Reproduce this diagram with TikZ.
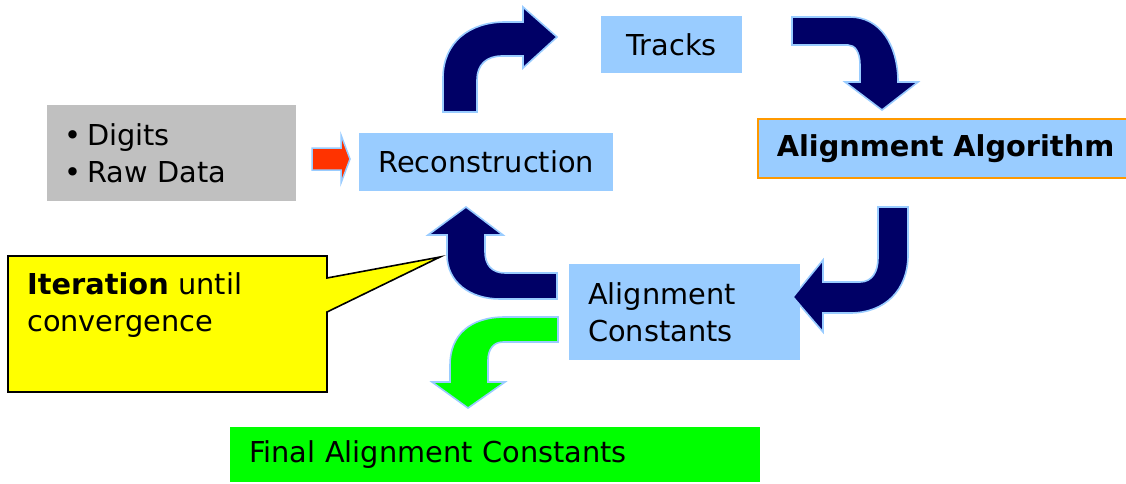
\documentclass[tikz,border=0pt]{standalone}
\usepackage{fontspec}
\setmainfont{DejaVu Sans}
\definecolor{navy}{HTML}{000066}
\definecolor{lblue}{HTML}{99CCFF}
\definecolor{gbox}{HTML}{C0C0C0}
\definecolor{ybox}{HTML}{FFFF00}
\definecolor{gfill}{HTML}{00FF00}
\definecolor{oborder}{HTML}{FF9900}
\definecolor{rarrow}{HTML}{FF3300}
\begin{document}
\begin{tikzpicture}[x=1pt,y=-1pt,
  txt/.style={font=\fontsize{28.8}{37}\selectfont},
  box/.style={txt,fill=lblue,inner sep=0pt,anchor=north west},
  bent/.style={fill=navy,draw=lblue,line width=1.6pt,line join=miter},
  greenbent/.style={fill=gfill,draw=lblue,line width=1.6pt,line join=miter}]
\useasboundingbox (0,0) rectangle (1126,483);
\fill[white] (0,0) rectangle (1126,483);

% boxes
\node[box,fill=gbox,minimum width=249pt,minimum height=96pt,text width=215pt,align=left] (digits) at (47,105) {•\hspace{6pt}Digits\\•\hspace{6pt}Raw Data};
\node[box,minimum width=254pt,minimum height=58pt,text width=230pt,align=center] (reco) at (359,133) {Reconstruction};
\node[box,minimum width=141pt,minimum height=57pt,text width=120pt,align=center] (tracks) at (601,16) {Tracks};
\node[box,draw=oborder,line width=1.5pt,minimum width=400pt,minimum height=59pt,text width=362pt,align=left] (algo) at (757,118) {\bfseries Alignment Algorithm};
\node[box,minimum width=231pt,minimum height=96pt,text width=193pt,align=left] (consts) at (569,264) {Alignment\\Constants};
\node[box,fill=gfill,minimum width=530pt,minimum height=55pt,text width=492pt,align=left] (final) at (230,427) {Final Alignment Constants};

% callout
\draw[fill=ybox,line width=1.6pt,line join=miter] (8,256) -- (327,256) -- (327,278) -- (440,257) -- (327,312) -- (327,392) -- (8,392) -- cycle;
\node[txt,anchor=north west,inner sep=0pt,text width=290pt,align=left] (iter) at (27,272) {\textbf{Iteration} until\\convergence};

% red input arrow
\draw[fill=rarrow,draw=lblue,line width=1.5pt] (312,148) -- (341,148) -- (341,135) -- (350,159) -- (341,183) -- (341,170) -- (312,170) -- cycle;

% reco -> tracks
\draw[bent] (443,112) -- (443,78) .. controls (443,42) and (470,22) .. (505,22) -- (523,22) -- (523,7) -- (557,37) -- (523,68) -- (523,56) -- (502,56) .. controls (486,56) and (477,65) .. (477,80) -- (477,112) -- cycle;
% tracks -> algo
\draw[bent] (792,17) -- (850,17) .. controls (880,17) and (898,45) .. (898,82) -- (918,82) -- (882,110) -- (845,82) -- (860,82) -- (860,65) .. controls (860,52) and (855,45) .. (848,45) -- (792,45) -- cycle;
% algo -> consts
\draw[bent] (878,207) -- (908,207) -- (908,255) .. controls (908,290) and (885,313) .. (850,313) -- (823,313) -- (823,332) -- (793,297) -- (823,260) -- (823,282) -- (860,282) .. controls (872,282) and (878,272) .. (878,258) -- cycle;
% consts -> reco
\draw[bent] (557,273) -- (505,273) .. controls (492,273) and (485,265) .. (485,252) -- (485,235) -- (503,235) -- (466,207) -- (428,235) -- (447,235) -- (447,255) .. controls (447,282) and (470,299) .. (500,299) -- (557,299) -- cycle;
% consts -> final
\draw[greenbent] (558,317) -- (505,317) .. controls (470,317) and (450,335) .. (450,365) -- (450,382) -- (432,382) -- (468,408) -- (505,382) -- (488,382) -- (488,360) .. controls (488,350) and (493,342) .. (503,342) -- (558,342) -- cycle;
\end{tikzpicture}
\end{document}
